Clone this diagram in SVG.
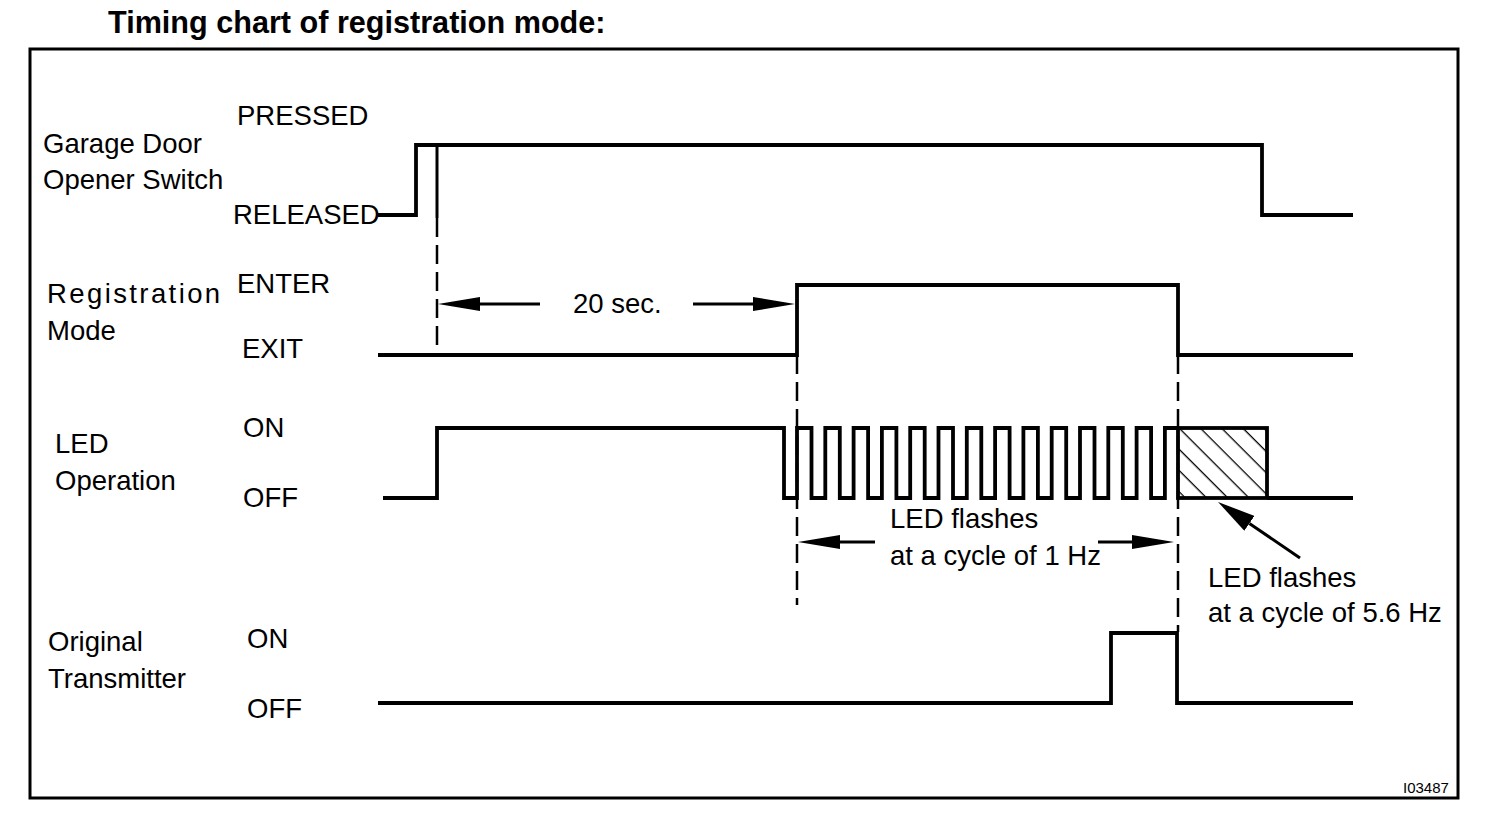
<svg xmlns="http://www.w3.org/2000/svg" width="1504" height="822" viewBox="0 0 1504 822">
<style>
text{font-family:"Liberation Sans",Arial,sans-serif;font-size:27.5px;fill:#000}
.title{font-weight:bold;font-size:30.6px}
.code{font-size:15px}
.sig{fill:none;stroke:#000;stroke-width:3.8;stroke-linejoin:miter}
.dash{fill:none;stroke:#000;stroke-width:2.5;stroke-dasharray:19 8}
.arr{fill:none;stroke:#000;stroke-width:3}
</style>
<defs>
<marker id="ah" markerUnits="userSpaceOnUse" viewBox="0 0 42 14" refX="0" refY="7" markerWidth="42" markerHeight="14" orient="auto">
<path d="M0,0 L42,7 L0,14 z" fill="#000"/>
</marker>
<marker id="ah2" markerUnits="userSpaceOnUse" viewBox="0 0 38 18" refX="0" refY="9" markerWidth="38" markerHeight="18" orient="auto">
<path d="M0,0 L38,9 L0,18 z" fill="#000"/>
</marker>
<pattern id="hatch" patternUnits="userSpaceOnUse" width="15" height="15" patternTransform="translate(1180,428) rotate(45)">
<line x1="0" y1="0" x2="15" y2="0" stroke="#000" stroke-width="2.6"/>
</pattern>
</defs>
<rect width="1504" height="822" fill="#fff"/>
<text class="title" x="108" y="33">Timing chart of registration mode:</text>
<rect x="30" y="49" width="1428" height="749" fill="none" stroke="#000" stroke-width="3"/>
<text class="code" x="1403" y="793">I03487</text>

<g id="garage-door-switch">
<text x="43" y="153">Garage Door</text>
<text x="43" y="189">Opener Switch</text>
<text x="237" y="125">PRESSED</text>
<text x="233" y="224">RELEASED</text>
<path class="sig" d="M378,215 H416 V145 H1262 V215 H1353"/>
<path class="sig" d="M437,145 V218" style="stroke-width:3"/>
</g>

<g id="registration-mode">
<text x="47" y="303" style="letter-spacing:2.4px">Registration</text>
<text x="47" y="340">Mode</text>
<text x="237" y="293">ENTER</text>
<text x="242" y="358">EXIT</text>
<path class="sig" d="M378,355 H797 V285 H1178 V355 H1353"/>
</g>

<g id="led-operation">
<text x="55" y="453">LED</text>
<text x="55" y="490">Operation</text>
<text x="243" y="437">ON</text>
<text x="243" y="507">OFF</text>
<path class="sig" d="M383,498 H437 V428 H784 V498 H797 V428 H811.5 V498 H825.3 V428 H839.8 V498 H853.6 V428 H868.1 V498 H881.9 V428 H896.4 V498 H910.2 V428 H924.7 V498 H938.5 V428 H953 V498 H966.8 V428 H981.3 V498 H995.1 V428 H1009.6 V498 H1023.4 V428 H1037.9 V498 H1051.7 V428 H1066.2 V498 H1080 V428 H1094.5 V498 H1108.3 V428 H1122.8 V498 H1136.6 V428 H1151.1 V498 H1164.9 V428 H1178"/>
<rect x="1178" y="428" width="89" height="70" fill="url(#hatch)" stroke="#000" stroke-width="3.8"/>
<path class="sig" d="M1267,498 H1353"/>
<text x="890" y="528">LED flashes</text>
<text x="890" y="565">at a cycle of 1 Hz</text>
<text x="1208" y="587">LED flashes</text>
<text x="1208" y="622">at a cycle of 5.6 Hz</text>
</g>

<g id="original-transmitter">
<text x="48" y="651">Original</text>
<text x="48" y="688">Transmitter</text>
<text x="247" y="648">ON</text>
<text x="247" y="718">OFF</text>
<path class="sig" d="M378,703 H1111 V633 H1177 V703 H1353"/>
</g>

<g id="connectors">
<path class="dash" d="M437,218 V355"/>
<path class="dash" d="M797,355 V605"/>
<path class="dash" d="M1178,355 V632"/>
<line class="arr" x1="540" y1="304" x2="480" y2="304" marker-end="url(#ah)"/>
<line class="arr" x1="693" y1="304" x2="753" y2="304" marker-end="url(#ah)"/>
<text x="573" y="313">20 sec.</text>
<line class="arr" x1="875" y1="542" x2="840" y2="542" marker-end="url(#ah)"/>
<line class="arr" x1="1098" y1="542" x2="1132" y2="542" marker-end="url(#ah)"/>
<line class="arr" x1="1300" y1="558" x2="1249.4" y2="523.4" marker-end="url(#ah2)"/>
</g>
</svg>
